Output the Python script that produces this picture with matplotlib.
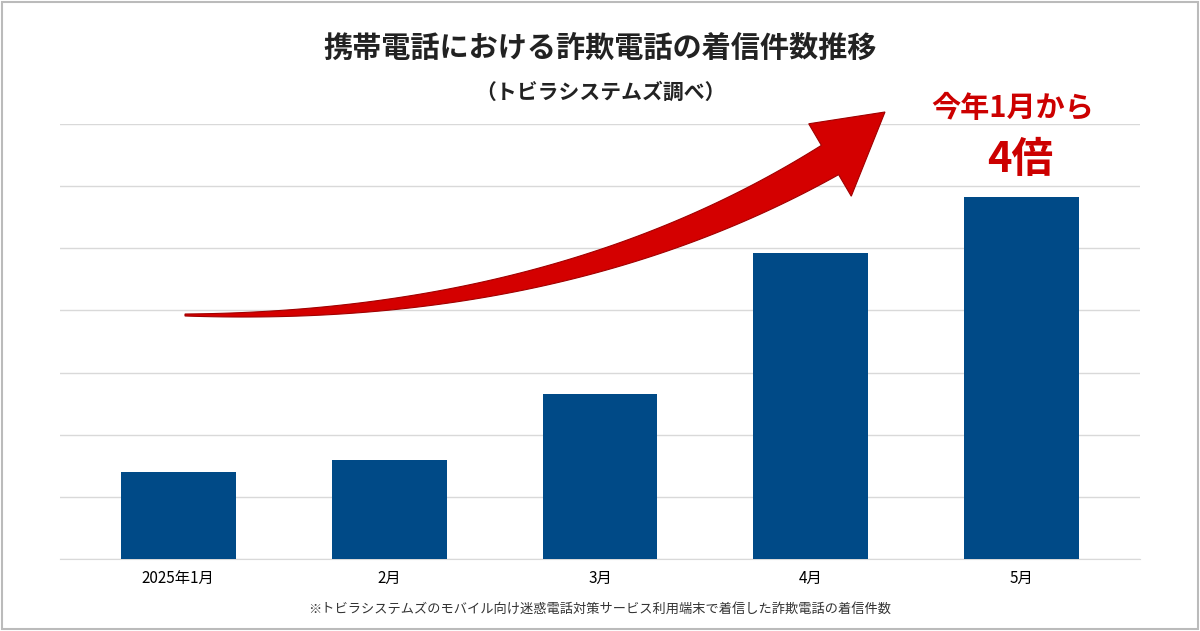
import numpy as np
import matplotlib.pyplot as plt
from matplotlib.patches import Polygon, Rectangle

plt.rcParams['font.family'] = 'Noto Sans CJK JP'

months = ['2025年1月', '2月', '3月', '4月', '5月']
calls = [1.40, 1.60, 2.66, 4.93, 5.83]  # relative units (gridline steps)

W, H = 1200, 631
fig = plt.figure(figsize=(12, 6.31), dpi=100)
fig.patch.set_facecolor('white')
fig.add_artist(Rectangle((0.002, 0.003), 0.996, 0.994, transform=fig.transFigure,
                         fill=False, edgecolor='#bbbbbb', linewidth=1.5))

ax = fig.add_axes([60 / W, 1 - 559 / H, 1080 / W, (559 - 124) / H])
x = np.arange(len(months))
ax.bar(x, calls, width=0.545, color='#004a87', zorder=3)
ax.set_xlim(-0.56, len(months) - 0.44)
ax.set_ylim(0, 7)
ax.set_yticks(np.arange(0, 8))
ax.set_yticklabels([])
ax.tick_params(axis='y', length=0)
ax.grid(axis='y', color='#d9d9d9', linewidth=1, zorder=0)
ax.set_xticks(x)
ax.set_xticklabels(months, fontsize=11)
ax.tick_params(axis='x', length=0, pad=8)
for s in ['top', 'right', 'left']:
    ax.spines[s].set_visible(False)
ax.spines['bottom'].set_color('#d9d9d9')

# curved tapered arrow
t = np.linspace(0, 1, 80)
p0, p1, p2 = np.array([185, 315]), np.array([560, 320]), np.array([830, 160])
curve = ((1 - t) ** 2)[:, None] * p0 + (2 * (1 - t) * t)[:, None] * p1 + (t ** 2)[:, None] * p2
d = np.gradient(curve, axis=0)
n = np.stack([-d[:, 1], d[:, 0]], axis=1)
n /= np.linalg.norm(n, axis=1)[:, None]
w = 1 + 16 * t
upper = curve + n * w[:, None]
lower = curve - n * w[:, None]
tip = np.array([885, 112])
dn = n[-1]
head = [curve[-1] + dn * 42, tip, curve[-1] - dn * 42]
pts = np.vstack([upper, head, lower[::-1]])
pts_fig = np.column_stack([pts[:, 0] / W, 1 - pts[:, 1] / H])
fig.add_artist(Polygon(pts_fig, closed=True, transform=fig.transFigure,
                       facecolor='#d40000', edgecolor='#a00000', linewidth=0.8))

fig.text(0.5, 1 - 48 / H, '携帯電話における詐欺電話の着信件数推移', ha='center', va='center',
         fontsize=21, fontweight='bold', color='#222222')
fig.text(0.5, 1 - 92 / H, '（トビラシステムズ調べ）', ha='center', va='center',
         fontsize=15, fontweight='bold', color='#222222')
fig.text(1013 / W, 1 - 108 / H, '今年1月から', ha='center', va='center',
         fontsize=21, fontweight='bold', color='#cc0000')
fig.text(1020 / W, 1 - 160 / H, '4倍', ha='center', va='center',
         fontsize=30, fontweight='bold', color='#cc0000')
fig.text(0.5, 1 - 609 / H, '※トビラシステムズのモバイル向け迷惑電話対策サービス利用端末で着信した詐欺電話の着信件数',
         ha='center', va='center', fontsize=9.5, color='#333333')

fig.savefig('out.png', dpi=100)
